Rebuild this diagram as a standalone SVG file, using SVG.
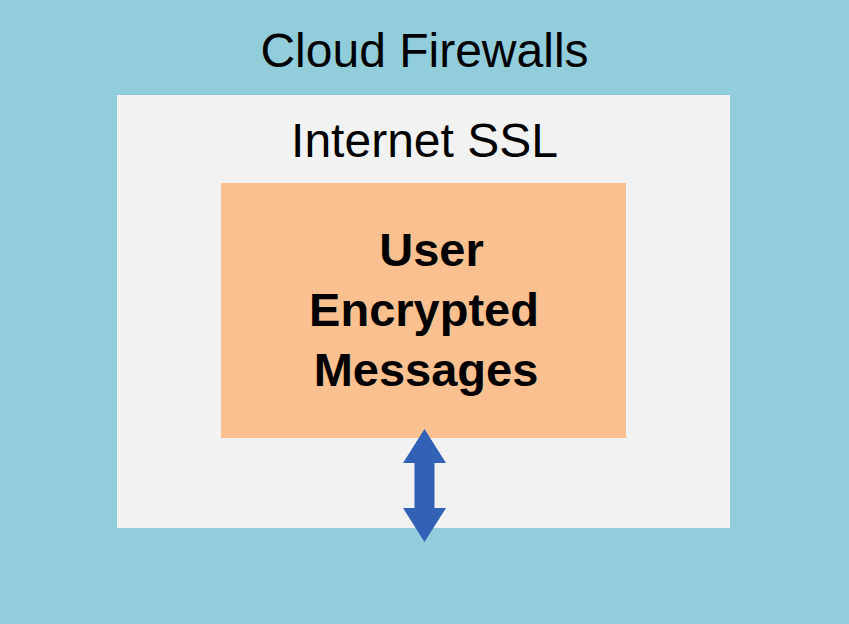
<svg xmlns="http://www.w3.org/2000/svg" width="849" height="624" viewBox="0 0 849 624">
<style>
.t{font-family:"Liberation Sans",Arial,sans-serif;fill:#000;text-anchor:middle}
.n{font-size:48px}
.b{font-weight:bold;font-size:47px}
</style>
<rect id="bg" x="0" y="0" width="849" height="624" fill="#92CDDC"/>
<g id="cloud-firewalls">
<text class="t n" x="424.5" y="67">Cloud Firewalls</text>
</g>
<g id="internet-ssl">
<rect x="117" y="95" width="613" height="433" fill="#F2F2F2"/>
<text class="t n" x="424.5" y="157">Internet SSL</text>
</g>
<g id="user-messages">
<rect x="221" y="183" width="405" height="255" fill="#FAC090"/>
<text class="t b" x="431.5" y="266">User</text>
<text class="t b" x="424" y="326">Encrypted</text>
<text class="t b" x="426" y="386">Messages</text>
</g>
<g id="connectors">
<polygon points="424.5,429 446,463 434.5,463 434.5,508 446,508 424.5,542 403,508 414.5,508 414.5,463 403,463" fill="#3162B5"/>
</g>
</svg>
